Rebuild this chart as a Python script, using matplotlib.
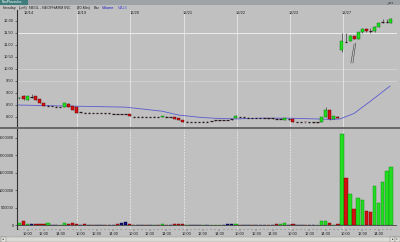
import matplotlib
matplotlib.use("Agg")
import matplotlib.pyplot as plt
from matplotlib.patches import Rectangle
import numpy as np

plt.rcParams['font.family'] = ['Liberation Sans', 'DejaVu Sans']

# 30-min bars, index -1 is the last bar of the day before 12/14
opens = [8.78,
         8.88, 8.72, 8.83, 8.88, 8.74, 8.58, 8.46, 8.45, 8.43, 8.41, 8.42, 8.55, 8.44,
         8.40, 8.19, 8.19, 8.18, 8.18, 8.17, 8.16, 8.16, 8.15, 8.14, 8.14, 8.13, 8.12,
         8.12, 8.03, 8.02, 8.02, 8.02, 8.01, 8.01, 8.02, 8.00, 8.03, 8.01, 8.01, 7.95,
         7.88, 7.80, 7.80, 7.80, 7.80, 7.80, 7.81, 7.83, 7.85, 7.86, 7.87, 7.88, 7.90,
         7.95, 8.01, 7.98, 7.97, 7.97, 7.96, 7.95, 7.95, 7.95, 7.94, 7.93, 7.92, 7.89,
         7.90, 7.90, 7.80, 7.79, 7.80, 7.78, 7.78, 7.78, 7.80, 8.00, 8.28, 7.93, 8.02,
         10.78, 11.15, 11.18, 11.36, 11.26, 11.54, 11.67, 11.60, 11.58, 11.76, 11.94, 11.93, 11.92]
highs = [8.82,
         8.90, 8.88, 8.97, 8.89, 8.76, 8.59, 8.48, 8.46, 8.44, 8.43, 8.60, 8.57, 8.46,
         8.42, 8.20, 8.20, 8.19, 8.18, 8.18, 8.17, 8.16, 8.16, 8.15, 8.14, 8.14, 8.13,
         8.13, 8.04, 8.03, 8.03, 8.02, 8.02, 8.03, 8.02, 8.06, 8.04, 8.02, 8.02, 7.96,
         7.89, 7.82, 7.81, 7.81, 7.81, 7.82, 7.82, 7.85, 7.87, 7.88, 7.88, 7.89, 7.91,
         8.07, 8.02, 7.99, 7.98, 7.97, 7.97, 7.96, 7.96, 7.95, 7.95, 7.94, 7.94, 7.97,
         7.91, 7.91, 7.81, 7.80, 7.81, 7.79, 7.79, 7.80, 8.00, 8.40, 8.30, 8.05, 8.04,
         11.52, 11.48, 11.40, 11.38, 11.55, 11.69, 11.69, 11.70, 11.79, 11.93, 12.07, 12.07, 12.14]
lows = [8.76,
        8.72, 8.70, 8.81, 8.70, 8.58, 8.45, 8.45, 8.44, 8.42, 8.40, 8.40, 8.40, 8.28,
        8.15, 8.18, 8.17, 8.17, 8.16, 8.16, 8.15, 8.14, 8.14, 8.13, 8.12, 8.12, 8.11,
        8.05, 8.01, 8.01, 8.01, 8.00, 8.00, 8.00, 8.00, 7.99, 8.01, 8.00, 7.91, 7.86,
        7.78, 7.79, 7.79, 7.79, 7.79, 7.79, 7.80, 7.82, 7.84, 7.85, 7.86, 7.87, 7.89,
        7.94, 7.99, 7.97, 7.96, 7.95, 7.95, 7.94, 7.94, 7.93, 7.93, 7.91, 7.91, 7.88,
        7.89, 7.79, 7.79, 7.78, 7.77, 7.77, 7.77, 7.77, 7.78, 7.98, 7.88, 7.92, 7.95,
        10.72, 11.12, 11.16, 11.25, 11.24, 11.52, 11.56, 11.49, 11.56, 11.74, 11.90, 11.90, 11.90]
closes = [8.80,
          8.73, 8.86, 8.83, 8.72, 8.60, 8.47, 8.47, 8.45, 8.43, 8.42, 8.58, 8.42, 8.30,
          8.18, 8.19, 8.18, 8.18, 8.17, 8.17, 8.16, 8.15, 8.15, 8.14, 8.13, 8.13, 8.12,
          8.06, 8.02, 8.02, 8.02, 8.01, 8.01, 8.02, 8.01, 8.05, 8.02, 8.01, 7.92, 7.87,
          7.79, 7.81, 7.80, 7.80, 7.80, 7.81, 7.81, 7.84, 7.86, 7.87, 7.87, 7.88, 7.90,
          8.05, 8.00, 7.98, 7.97, 7.96, 7.96, 7.95, 7.95, 7.94, 7.94, 7.92, 7.93, 7.96,
          7.90, 7.80, 7.80, 7.79, 7.78, 7.78, 7.78, 7.79, 7.98, 8.30, 7.90, 8.03, 7.97,
          11.16, 11.14, 11.37, 11.27, 11.53, 11.67, 11.58, 11.59, 11.76, 11.91, 11.95, 11.94, 12.10]
volumes = [85000,
           135000, 50000, 35000, 40000, 35000, 40000, 60000, 20000, 20000, 25000, 70000, 30000, 75000,
           50000, 25000, 30000, 20000, 20000, 15000, 20000, 25000, 15000, 20000, 30000, 70000, 110000,
           45000, 20000, 15000, 15000, 20000, 15000, 20000, 15000, 30000, 15000, 15000, 45000, 40000,
           35000, 25000, 15000, 15000, 15000, 20000, 15000, 20000, 15000, 20000, 15000, 35000, 40000,
           50000, 25000, 15000, 15000, 15000, 15000, 15000, 20000, 15000, 15000, 30000, 40000, 85000,
           20000, 30000, 15000, 15000, 20000, 15000, 15000, 15000, 130000, 140000, 80000, 25000, 35000,
           2610000, 1350000, 890000, 470000, 790000, 730000, 410000, 380000, 1130000, 650000, 1240000, 1570000, 1660000]

# moving average at a few bars
ma_bars = [-1.6, 9, 16, 25, 34, 38, 43, 46.5, 52, 58, 65, 75.6, 77.6, 81, 85.4, 89.8]
ma_vals = [8.50, 8.46, 8.44, 8.41, 8.24, 8.08, 7.99, 7.95, 7.92, 7.95, 7.95, 7.90, 7.92, 8.15, 8.71, 9.29]

days = ["12/14", "12/19", "12/20", "12/21", "12/22", "12/23", "12/27"]
times = ["10:00", "12:00", "14:00"]
price_ticks = [8.0, 8.5, 9.0, 9.5, 10.0, 10.5, 11.0, 11.5, 12.0]
vol_ticks = [0, 500000, 1000000, 1500000, 2000000, 2500000]

bg = '#c0c0c0'
green = '#22dd22'
red = '#d41010'
fs = 2.9

x = np.arange(-1, len(opens) - 1)
o = np.array(opens); h = np.array(highs); l = np.array(lows); c = np.array(closes)
v = np.array(volumes)

W, H = 400, 242
fig = plt.figure(figsize=(4, 2.42), dpi=100, facecolor=bg)

def px(x0, y0, w, hh):
    return [x0 / W, 1 - (y0 + hh) / H, w / W, hh / H]

ax1 = fig.add_axes(px(17, 10, 380, 117), facecolor=bg)
ax2 = fig.add_axes(px(17, 129, 380, 100), facecolor=bg)

day_starts = [13 * k + 0.2 for k in range(len(days))]

# ---- price panel
for yy, col in [(11.5, '#f4f4f4'), (10.0, '#d4d4d4'), (9.5, '#d4d4d4')]:
    ax1.axhline(yy, color=col, lw=0.6, zorder=1)
for ds in day_starts[1:]:
    ax1.axvline(ds, color='#e6e6e6', lw=0.6, zorder=1)

ax1.plot(ma_bars, ma_vals, color='#5a5ad0', lw=0.6, zorder=2)

ax1.vlines(x, l, h, color='#202020', lw=0.4, zorder=3)
flat = np.abs(c - o) < 0.015
up = (c > o) & ~flat
dn = (c < o) & ~flat
ax1.bar(x[up], (c - o)[up], bottom=o[up], width=0.75, color=green,
        edgecolor='#006a00', lw=0.3, zorder=4)
ax1.bar(x[dn], (o - c)[dn], bottom=c[dn], width=0.75, color=red,
        edgecolor='#5a0000', lw=0.3, zorder=4)
ax1.hlines(c[flat], x[flat] - 0.3, x[flat] + 0.3, color='#2a1a1a', lw=0.9, zorder=4)

# hand-drawn lines on 12/27
ax1.plot([80.2, 81.0], [10.25, 11.04], color='#404040', lw=0.4, zorder=5)
ax1.plot([80.7, 81.4], [10.25, 11.08], color='#404040', lw=0.4, zorder=5)

for k, d in enumerate(days):
    ax1.text(13 * k + 1.2, 12.32, d, fontsize=fs, ha='center', va='center', color='#202020')

ax1.set_xlim(-1.6, 91.5)
ax1.set_ylim(7.583, 12.458)
ax1.set_yticks(price_ticks)
ax1.set_yticklabels(["%.2f" % t for t in price_ticks])
ax1.set_xticks([])

# ---- volume panel
for ds in day_starts[1:]:
    ax2.axvline(ds, color='#ececec', lw=0.6, ls=(0, (2, 1.5)), zorder=1)
vcol = np.where(c > o, green, np.where(c < o, red, '#101080'))
vedge = np.where(c > o, '#0a8a0a', np.where(c < o, '#700000', '#000040'))
ax2.bar(x, v, width=0.85, color=vcol, edgecolor=vedge, lw=0.3, zorder=3)
ax2.axhline(0, color='#303030', lw=0.5, zorder=4)
ax2.set_xlim(-1.6, 91.5)
ax2.set_ylim(-100000, 2757000)
ax2.set_yticks(vol_ticks)
ax2.set_yticklabels([str(t) for t in vol_ticks])
tpos = []
tlab = []
for k in range(len(days)):
    for j, t in enumerate(times):
        tpos.append(13 * k + 1 + 4 * j)
        tlab.append(t)
ax2.set_xticks(tpos)
ax2.set_xticklabels(tlab)
ax2.set_xticks(x, minor=True)

for ax in (ax1, ax2):
    for s in ('top', 'right', 'bottom'):
        ax.spines[s].set_visible(False)
    ax.spines['left'].set_color('#303030')
    ax.spines['left'].set_linewidth(0.8)
    ax.tick_params(axis='y', labelsize=fs, length=1.5, width=0.4, pad=1, colors='#202020')
    ax.tick_params(axis='x', labelsize=fs, length=1.2, width=0.3, pad=1.3, colors='#202020')
ax2.tick_params(axis='x', which='minor', length=0.8, width=0.3, color='#303030')

# panel divider
fig.add_artist(Rectangle((0, 1 - 128.5 / H), 1, 1.6 / H, transform=fig.transFigure,
                         color='#6a6a6a', lw=0))

# title bar and header
fig.add_artist(Rectangle((0, 1 - 4.5 / H), 1, 4.5 / H, transform=fig.transFigure,
                         color='#9ea3a8', lw=0))
fig.add_artist(Rectangle((0, 1 - 4.5 / H), 28 / W, 4.5 / H, transform=fig.transFigure,
                         color='#3f7d7d', lw=0))
fig.text(2 / W, 1 - 2.3 / H, "NeoPharm.Inc", fontsize=2.3, color='white', va='center')
fig.text(386 / W, 1 - 2.3 / H, "_ \u25a1 x", fontsize=2.3, color='#202020', va='center')
hy = 1 - 7.6 / H
for xx, t, col in [(3, "Intraday", '#202020'), (19, "(Left)", '#202020'),
                   (29, "NEOL - NEOPHARM INC", '#202020'), (77, "(30-Min)", '#202020'),
                   (94, "Bar", '#202020'), (102, "Volume", '#1010c0'), (118, "MA24", '#5a5ad0')]:
    fig.text(xx / W, hy, t, fontsize=2.7, color=col, va='center')

# scrollbar
fig.add_artist(Rectangle((0, 0), 1, 5.5 / H, transform=fig.transFigure,
                         facecolor='#dcdad4', edgecolor='#909090', lw=0.3))
fig.add_artist(Rectangle((0.5 / W, 0.5 / H), 5 / W, 4.5 / H, transform=fig.transFigure,
                         facecolor='#e8e6e0', edgecolor='#707070', lw=0.3))
fig.add_artist(Rectangle((390 / W, 0.5 / H), 5 / W, 4.5 / H, transform=fig.transFigure,
                         facecolor='#e8e6e0', edgecolor='#707070', lw=0.3))
fig.add_artist(Rectangle((395 / W, 0.5 / H), 4.5 / W, 4.5 / H, transform=fig.transFigure,
                         facecolor='#e8e6e0', edgecolor='#707070', lw=0.3))
fig.text(3 / W, 2.8 / H, "\u25c2", fontsize=2.5, ha='center', va='center', color='#202020')
fig.text(392.5 / W, 2.8 / H, "\u25b8", fontsize=2.5, ha='center', va='center', color='#202020')
fig.text(397.2 / W, 2.8 / H, "x", fontsize=2.3, ha='center', va='center', color='#202020')

fig.savefig("out.png", dpi=100, facecolor=bg)
